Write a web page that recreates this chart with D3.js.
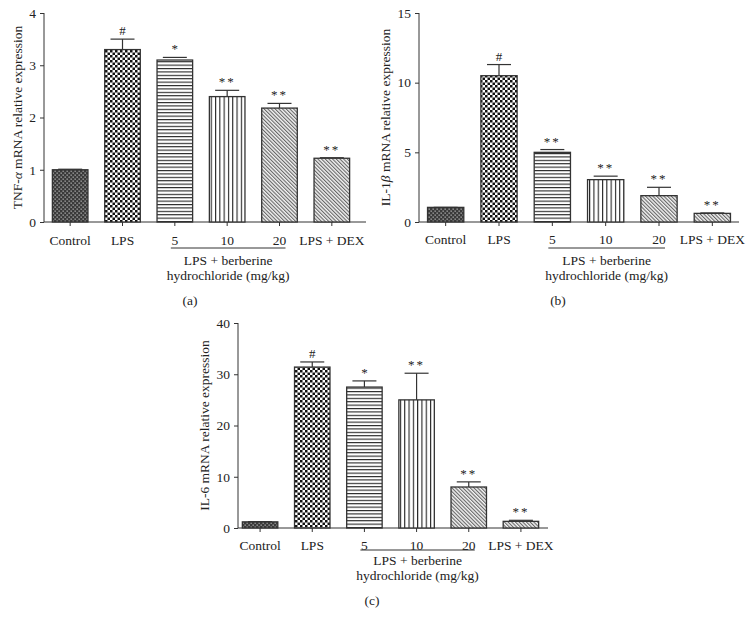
<!DOCTYPE html>
<html>
<head>
<meta charset="utf-8">
<script src="https://cdn.jsdelivr.net/npm/d3@7"></script>
<style>
  body { margin: 0; background: #fff; }
  svg text { font-family: "Liberation Serif", "DejaVu Serif", serif; fill: #222; }
</style>
</head>
<body>
<div class="container"></div>
<script>
var groups = ["Control", "LPS", "5", "10", "20", "LPS + DEX"];
var fills = ["ctrl", "lps", "horiz", "vert", "diag", "diag"];

var tnfMean = [1.0, 3.3, 3.1, 2.4, 2.18, 1.22];
var tnfErr  = [0.01, 0.2, 0.05, 0.12, 0.09, 0.01];
var tnfSig  = ["", "#", "*", "**", "**", "**"];
var tnfTicks = [0, 1, 2, 3, 4];

var il1Mean = [1.05, 10.5, 5.0, 3.04, 1.89, 0.62];
var il1Err  = [0.0, 0.8, 0.2, 0.25, 0.6, 0.03];
var il1Sig  = ["", "#", "**", "**", "**", "**"];
var il1Ticks = [0, 5, 10, 15];

var il6Mean = [1.2, 31.4, 27.5, 25.0, 8.0, 1.3];
var il6Err  = [0.05, 1.0, 1.2, 5.2, 1.0, 0.2];
var il6Sig  = ["", "#", "*", "**", "**", "**"];
var il6Ticks = [0, 10, 20, 30, 40];

var svg = d3.select('.container').append('svg')
  .attr('width', 747)
  .attr('height', 626);

// hatch patterns
var defs = svg.append('defs');

var p = defs.append('pattern').attr('id', 'ctrl').attr('patternUnits', 'userSpaceOnUse')
  .attr('width', 4).attr('height', 4);
p.append('rect').attr('width', 4).attr('height', 4).attr('fill', '#3a3a3a');
p.append('rect').attr('x', 0.5).attr('y', 0.5).attr('width', 1.3).attr('height', 1.3).attr('fill', '#b0b0b0');
p.append('rect').attr('x', 2.5).attr('y', 2.5).attr('width', 1.3).attr('height', 1.3).attr('fill', '#b0b0b0');

p = defs.append('pattern').attr('id', 'lps').attr('patternUnits', 'userSpaceOnUse')
  .attr('width', 5).attr('height', 5);
p.append('rect').attr('width', 5).attr('height', 5).attr('fill', '#fff');
p.append('rect').attr('width', 2.5).attr('height', 2.5).attr('fill', '#111');
p.append('rect').attr('x', 2.5).attr('y', 2.5).attr('width', 2.5).attr('height', 2.5).attr('fill', '#111');

p = defs.append('pattern').attr('id', 'horiz').attr('patternUnits', 'userSpaceOnUse')
  .attr('width', 4).attr('height', 3.4);
p.append('rect').attr('width', 4).attr('height', 3.4).attr('fill', '#fff');
p.append('rect').attr('width', 4).attr('height', 1.1).attr('fill', '#222');

p = defs.append('pattern').attr('id', 'vert').attr('patternUnits', 'userSpaceOnUse')
  .attr('width', 4.3).attr('height', 4);
p.append('rect').attr('width', 4.3).attr('height', 4).attr('fill', '#fff');
p.append('rect').attr('width', 1.1).attr('height', 4).attr('fill', '#222');

p = defs.append('pattern').attr('id', 'diag').attr('patternUnits', 'userSpaceOnUse')
  .attr('width', 2.6).attr('height', 4).attr('patternTransform', 'rotate(-45)');
p.append('rect').attr('width', 2.6).attr('height', 4).attr('fill', '#f2f2f2');
p.append('rect').attr('width', 1.1).attr('height', 4).attr('fill', '#666');

var drawPanel = function(cfg) {
  var g = svg.append('g');

  var xScale = d3.scaleBand()
    .domain(groups)
    .range(cfg.band)
    .paddingInner(0.32)
    .paddingOuter(0.16);

  var yScale = d3.scaleLinear()
    .domain([0, cfg.ticks[cfg.ticks.length - 1]])
    .range([cfg.bottom, cfg.top]);

  // axes
  var yAxis = d3.axisLeft(yScale).tickValues(cfg.ticks).tickFormat(d3.format('d'))
    .tickSize(4).tickPadding(4).tickSizeOuter(0);
  var yg = g.append('g').attr('transform', 'translate(' + cfg.axisX + ',0)').call(yAxis);
  yg.select('.domain').remove();
  yg.selectAll('text').attr('font-size', 13.5).attr('font-family', '"Liberation Serif", serif').attr('fill', '#222');
  yg.selectAll('line').attr('stroke', '#333');

  var xAxis = d3.axisBottom(xScale).tickSize(4).tickPadding(cfg.labelPad).tickSizeOuter(0);
  var xg = g.append('g').attr('transform', 'translate(0,' + cfg.bottom + ')').call(xAxis);
  xg.select('.domain').remove();
  xg.selectAll('text').attr('font-size', 13.5).attr('font-family', '"Liberation Serif", serif').attr('fill', '#222');
  xg.selectAll('line').attr('stroke', '#333');

  g.append('line').attr('x1', cfg.axisX).attr('x2', cfg.axisX)
    .attr('y1', cfg.top).attr('y2', cfg.bottom).attr('stroke', '#333');
  g.append('line').attr('x1', cfg.axisX).attr('x2', cfg.xEnd)
    .attr('y1', cfg.bottom).attr('y2', cfg.bottom).attr('stroke', '#333');

  // error bars (upper only)
  var bw = xScale.bandwidth();
  groups.forEach(function(name, i) {
    var cx = xScale(name) + bw / 2;
    var top = yScale(cfg.mean[i] + cfg.err[i]);
    if (cfg.err[i] > 0.02 * yScale.domain()[1]) {
      g.append('line').attr('x1', cx).attr('x2', cx)
        .attr('y1', yScale(cfg.mean[i])).attr('y2', top).attr('stroke', '#333').attr('stroke-width', 1.2);
    }
    g.append('line').attr('x1', cx - 12).attr('x2', cx + 12)
      .attr('y1', top).attr('y2', top).attr('stroke', '#333').attr('stroke-width', 1.2);
  });

  // bars
  g.selectAll('rect.bar').data(groups).enter()
    .append('rect')
    .attr('class', 'bar')
    .attr('x', function(d) { return xScale(d); })
    .attr('y', function(d, i) { return yScale(cfg.mean[i]); })
    .attr('width', bw)
    .attr('height', function(d, i) { return cfg.bottom - yScale(cfg.mean[i]); })
    .attr('fill', function(d, i) { return 'url(#' + fills[i] + ')'; })
    .attr('stroke', '#333')
    .attr('stroke-width', 1.3);

  // significance marks
  g.selectAll('text.sig').data(groups).enter()
    .append('text')
    .attr('class', 'sig')
    .attr('x', function(d) { return xScale(d) + bw / 2; })
    .attr('y', function(d, i) { return yScale(cfg.mean[i] + cfg.err[i]) - 4; })
    .attr('text-anchor', 'middle')
    .attr('font-size', 13)
    .attr('fill', '#333')
    .attr('letter-spacing', function(d, i) { return cfg.sig[i] == '**' ? 2 : 0; })
    .text(function(d, i) { return cfg.sig[i]; });

  // y label
  var midY = (cfg.top + cfg.bottom) / 2;
  var lab = g.append('text')
    .attr('transform', 'translate(' + cfg.labelX + ',' + midY + ') rotate(-90)')
    .attr('text-anchor', 'middle')
    .attr('dominant-baseline', 'central')
    .attr('font-size', 13.5);
  lab.append('tspan').text(cfg.label[0]);
  lab.append('tspan').attr('font-style', 'italic').text(cfg.label[1]);
  lab.append('tspan').text(cfg.label[2]);

  // group bracket for berberine doses
  var lx1 = xScale('5') + bw / 2 - 4;
  var lx2 = xScale('20') + bw / 2 + 6;
  var ly = cfg.bottom + cfg.lineOff;
  g.append('line').attr('x1', lx1).attr('x2', lx2).attr('y1', ly).attr('y2', ly)
    .attr('stroke', '#333');
  var mx = (lx1 + lx2) / 2;
  g.append('text').attr('x', mx).attr('y', ly + cfg.textOff).attr('text-anchor', 'middle')
    .attr('dominant-baseline', 'central').attr('font-size', 13.5).text('LPS + berberine');
  g.append('text').attr('x', mx).attr('y', ly + cfg.textOff + 15).attr('text-anchor', 'middle')
    .attr('dominant-baseline', 'central').attr('font-size', 13.5).text('hydrochloride (mg/kg)');
  g.append('text').attr('x', cfg.capX).attr('y', ly + cfg.textOff + 40).attr('text-anchor', 'middle')
    .attr('dominant-baseline', 'central').attr('font-size', 13.5).text(cfg.caption);
};

drawPanel({ mean: tnfMean, err: tnfErr, sig: tnfSig, ticks: tnfTicks,
  band: [44, 358], axisX: 44, xEnd: 366, top: 13, bottom: 222, labelPad: 9,
  label: ['TNF-', 'α', ' mRNA relative expression'], labelX: 17,
  lineOff: 26, textOff: 12, caption: '(a)', capX: 190 });

drawPanel({ mean: il1Mean, err: il1Err, sig: il1Sig, ticks: il1Ticks,
  band: [419, 739], axisX: 419, xEnd: 739, top: 13, bottom: 222, labelPad: 8,
  label: ['IL-1', 'β', ' mRNA relative expression'], labelX: 385,
  lineOff: 26, textOff: 12, caption: '(b)', capX: 558 });

drawPanel({ mean: il6Mean, err: il6Err, sig: il6Sig, ticks: il6Ticks,
  band: [234, 547], axisX: 238, xEnd: 548, top: 323, bottom: 528, labelPad: 8,
  label: ['IL-6 mRNA relative expression', '', ''], labelX: 204,
  lineOff: 22, textOff: 10, caption: '(c)', capX: 372 });
</script>
</body>
</html>
